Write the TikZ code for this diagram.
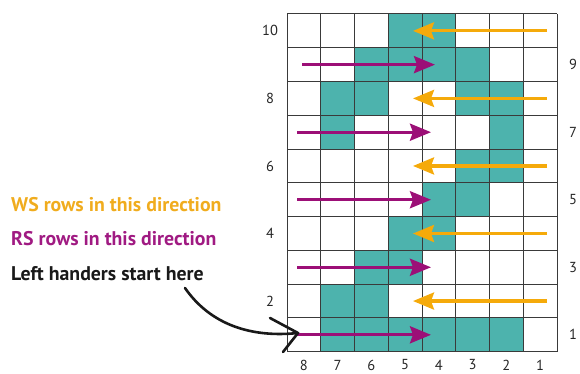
\documentclass[tikz,border=0pt]{standalone}
\usepackage{fontspec}
\setmainfont{PT Sans}
\usetikzlibrary{arrows.meta}
\definecolor{cellteal}{HTML}{4DB3AD}
\definecolor{wsorange}{HTML}{F5AA0A}
\definecolor{rsmagenta}{HTML}{9C0F77}
\definecolor{wstext}{HTML}{F0AC1E}
\definecolor{rstext}{HTML}{A01A82}
\definecolor{gridc}{HTML}{3A3A3A}
\begin{document}
\begin{tikzpicture}[x=1pt,y=-1pt,
  gridline/.style={draw=gridc,line width=1pt},
  numlab/.style={font=\fontsize{14.5}{16}\selectfont,text=black!85,inner sep=0pt},
  lefttext/.style={anchor=base west,inner sep=0pt,font=\fontsize{19.8}{22}\selectfont\bfseries},
  wsarrow/.style={draw=wsorange,line width=3.2pt,-{Stealth[length=21pt,width=17pt,inset=3pt]}},
  rsarrow/.style={draw=rsmagenta,line width=3.2pt,-{Stealth[length=21pt,width=17pt,inset=3pt]}},
  handarrow/.style={draw=black!90,line width=2.6pt,line cap=round,line join=round}]
\useasboundingbox (0,0) rectangle (580,374);
\def\gx{287}\def\gy{14}\def\cw{33.75}\def\ch{33.77}
% teal cells: row index from top (0 = row 10), column index from left (0 = col 8)
\foreach \r/\c in {0/3,0/4,
  1/2,1/3,1/4,1/5,
  2/1,2/2,2/5,2/6,
  3/1,3/6,
  4/5,4/6,
  5/4,5/5,
  6/3,6/4,
  7/2,7/3,
  8/1,8/2,
  9/1,9/2,9/3,9/4,9/5,9/6}
  \fill[cellteal] ({\gx+\c*\cw},{\gy+\r*\ch}) rectangle ++(\cw,\ch);
% grid
\foreach \i in {0,...,8}
  \draw[gridline] ({\gx+\i*\cw},\gy) -- ++(0,{10*\ch});
\foreach \j in {0,...,10}
  \draw[gridline] (\gx,{\gy+\j*\ch}) -- ++({8*\cw},0);
% column labels
\foreach \i in {0,...,7}{
  \pgfmathtruncatemacro{\lab}{8-\i}
  \node[numlab] (col\lab) at ({\gx+(\i+0.5)*\cw},365) {\lab};
}
% row labels
\foreach \r in {0,2,4,6,8}{
  \pgfmathtruncatemacro{\lab}{10-\r}
  \node[numlab] (row\lab) at (270,{\gy+(\r+0.5)*\ch}) {\lab};
}
\foreach \r in {1,3,5,7,9}{
  \pgfmathtruncatemacro{\lab}{10-\r}
  \node[numlab] (row\lab) at (573,{\gy+(\r+0.5)*\ch}) {\lab};
}
% arrows: WS (right to left) in even rows
\foreach \r in {0,2,4,6,8}{
  \coordinate (wsA\r) at (547,{\gy+(\r+0.5)*\ch});
  \coordinate (wsB\r) at (413,{\gy+(\r+0.5)*\ch});
  \draw[wsarrow] (wsA\r) -- (wsB\r);
}
% RS (left to right) in odd rows
\coordinate (rsA1) at (302,{\gy+1.5*\ch});
\coordinate (rsB1) at (435,{\gy+1.5*\ch});
\draw[rsarrow] (rsA1) -- (rsB1);
\foreach \r in {3,5,7,9}{
  \coordinate (rsA\r) at (297,{\gy+(\r+0.5)*\ch});
  \coordinate (rsB\r) at (431,{\gy+(\r+0.5)*\ch});
  \draw[rsarrow] (rsA\r) -- (rsB\r);
}
% texts
\node[lefttext,text=wstext] (ws) at (11,211.7) {WS rows in this direction};
\node[lefttext,text=rstext] (rs) at (11,245) {RS rows in this direction};
\node[lefttext,text=black!90] (lh) at (11,280) {Left handers start here};
% hand-drawn arrow
\coordinate (hs) at (185,288);
\coordinate (ht) at (298,333);
\coordinate (hb1) at (270,318);
\coordinate (hb2) at (283,352);
\draw[handarrow] (hs) .. controls (210,324) and (250,338) .. (ht);
\draw[handarrow] (hb1) -- (ht) -- (hb2);
\end{tikzpicture}
\end{document}
